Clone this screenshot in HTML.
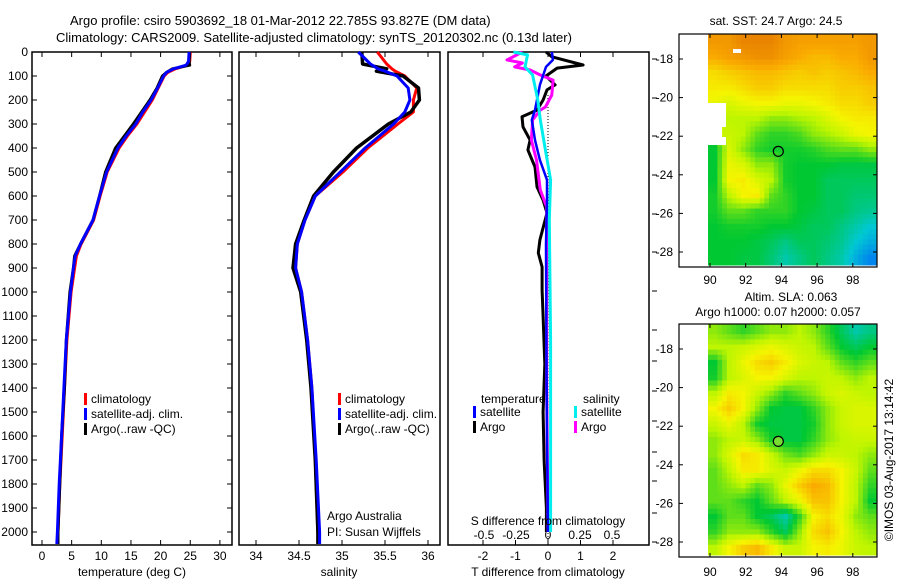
<!DOCTYPE html>
<html><head><meta charset="utf-8">
<style>
body{margin:0;background:#fff;}
svg{display:block;font-family:"Liberation Sans",sans-serif;}
text{font-size:12px;fill:#000;}
</style></head>
<body>
<svg id="fig" width="900" height="580" viewBox="0 0 900 580">
<g id="g"></g>
</svg>
<script>
// ---- profile data ----
const tDepth=[0,40,55,70,85,100,150,200,250,300,350,400,500,600,700,800,850,900,1000,1200,1400,1600,1800,2000,2050];
const tClim=[25.0,24.9,24.5,22.5,21.2,20.6,19.6,18.6,17.3,16.0,14.4,13.0,11.0,9.8,8.7,6.6,5.8,5.5,4.9,4.2,3.8,3.4,3.0,2.7,2.6];
const tSat=[24.8,24.7,24.3,22.2,21.0,20.5,19.5,18.4,17.0,15.8,14.2,12.8,10.9,9.7,8.6,6.5,5.6,5.3,4.8,4.1,3.7,3.3,2.9,2.6,2.5];
const tArgo=[24.9,24.8,24.9,22.0,21.0,20.3,19.4,18.2,16.8,15.4,13.9,12.4,10.7,9.7,8.6,6.5,5.5,5.3,4.7,4.1,3.8,3.3,3.0,2.7,2.7];
const sDepth=[0,50,70,80,100,150,200,250,300,400,500,600,700,800,900,1000,1200,1400,1700,2000,2050];
const sClim=[35.41,35.52,35.58,35.62,35.73,35.87,35.83,35.83,35.65,35.30,35.01,34.69,34.57,34.48,34.46,34.53,34.6,34.65,34.69,34.72,34.73];
const sSat=[35.19,35.33,35.42,35.5,35.64,35.77,35.79,35.73,35.60,35.27,34.98,34.69,34.57,34.48,34.46,34.53,34.6,34.65,34.7,34.74,34.74];
const sArgo=[35.23,35.24,35.52,35.40,35.71,35.89,35.90,35.80,35.54,35.17,34.90,34.67,34.56,34.46,34.43,34.52,34.59,34.64,34.69,34.72,34.72];
const dTArgoDepth=[0,20,54,67,100,137,158,200,242,270,312,367,408,479,562,617,671,783,837,896,992,1100,1300,1500,1700,1900,2000];
const dTArgo=[-0.06,0.12,1.08,0.28,-0.06,0.22,-0.03,-0.15,-0.34,-0.8,-0.77,-0.55,-0.62,-0.4,-0.34,-0.15,-0.03,-0.25,-0.3,-0.18,-0.18,-0.15,-0.1,-0.15,-0.12,-0.05,-0.05];
const dTSatDepth=[0,33,62,137,242,283,367,450,533,617,800,1200,1600,2000];
const dTSat=[0.12,0.15,-0.06,-0.25,-0.4,-0.5,-0.4,-0.25,-0.03,-0.03,-0.06,-0.05,-0.03,0];
const dSArgoDepth=[0,33,46,62,75,96,117,179,229,242,283,367,450,575,646,900,1400,2000];
const dSArgo=[-0.2,-0.32,-0.2,-0.26,-0.14,-0.06,0.04,0.03,-0.02,-0.06,-0.12,-0.13,-0.09,-0.06,-0.01,-0.01,-0.01,0];
const dSSatDepth=[0,12,62,96,200,283,408,533,700,1200,2000];
const dSSat=[-0.27,-0.16,-0.18,-0.12,-0.08,-0.06,-0.02,0.02,0.01,0.02,0.02];
const depthTicks=[0,100,200,300,400,500,600,700,800,900,1000,1100,1200,1300,1400,1500,1600,1700,1800,1900,2000];
const tTicks=[0,5,10,15,20,25,30];
const sTicks=[34,34.5,35,35.5,36];
const sTickLabels=["34","34.5","35","35.5","36"];
const dTTicks=[-2,-1,0,1,2];
const dSTicks=[-0.5,-0.25,0,0.25,0.5];
const dSTickLabels=["-0.5","-0.25","0","0.25","0.5"];
// ---- map data (value 0..1 colour index; null = no data) ----
const lonTicks=[90,92,94,96,98];
const latTicks=[18,20,22,24,26,28];
const sstGrid=[
[.9,.9,.95,.95,.95,.9,.88,.88,.88,.88,.88,.9],
[.85,.88,.9,.92,.92,.88,.85,.82,.82,.85,.85,.9],
[.75,.78,.8,.82,.82,.8,.78,.8,.78,.8,.82,.85],
[.72,.72,.75,.78,.78,.75,.75,.75,.75,.78,.78,.8],
[.68,.65,.68,.7,.7,.68,.68,.7,.72,.75,.75,.78],
[null,.6,.6,.6,.55,.55,.58,.6,.65,.7,.72,.72],
[null,.62,.6,.5,.45,.45,.48,.55,.58,.62,.68,.7],
[.4,.65,.55,.45,.42,.42,.42,.44,.48,.5,.5,.55],
[.4,.68,.65,.55,.55,.42,.4,.4,.4,.38,.38,.38],
[.4,.7,.72,.65,.6,.42,.4,.4,.35,.35,.35,.35],
[.42,.6,.7,.72,.5,.45,.4,.4,.35,.35,.32,.32],
[.42,.5,.5,.45,.45,.45,.4,.38,.35,.35,.3,.28],
[.4,.42,.42,.42,.4,.4,.38,.35,.35,.3,.25,.2],
[.4,.4,.4,.38,.35,.3,.35,.35,.32,.28,.2,.15],
[.4,.4,.38,.38,.32,.25,.3,.35,.3,.25,.15,.08]];
const slaGrid=[
[.55,.5,.45,.5,.55,.55,.6,.55,.45,.35,.25,.3],
[.6,.6,.62,.65,.68,.65,.62,.6,.5,.4,.35,.4],
[.4,.6,.68,.75,.78,.72,.65,.62,.6,.5,.45,.5],
[.42,.6,.65,.7,.7,.65,.6,.6,.62,.6,.55,.6],
[.6,.72,.7,.62,.55,.45,.5,.55,.62,.65,.62,.6],
[.7,.78,.7,.55,.4,.38,.38,.45,.55,.62,.65,.65],
[.62,.68,.6,.42,.38,.38,.38,.42,.55,.62,.65,.65],
[.55,.6,.62,.55,.42,.38,.38,.45,.55,.6,.62,.62],
[.55,.65,.75,.72,.62,.52,.48,.55,.62,.62,.6,.55],
[.5,.6,.72,.72,.65,.62,.68,.75,.75,.7,.62,.5],
[.5,.55,.6,.5,.55,.68,.78,.85,.82,.7,.6,.45],
[.5,.5,.45,.4,.5,.6,.68,.8,.8,.7,.6,.4],
[.4,.5,.5,.4,.35,.25,.45,.7,.75,.68,.55,.5],
[.45,.55,.55,.55,.45,.35,.55,.75,.8,.7,.6,.55],
[.6,.7,.78,.82,.72,.62,.62,.7,.72,.68,.62,.6]];
const profLon=93.827, profLat=22.785;

const NS="http://www.w3.org/2000/svg";
const G=document.getElementById('g');
function el(tag,attrs,parent){const e=document.createElementNS(NS,tag);for(const k in attrs)e.setAttribute(k,attrs[k]);(parent||G).appendChild(e);return e;}
function txt(x,y,s,anchor,name,extra){const t=el('text',Object.assign({x:x,y:y,'text-anchor':anchor||'start'},extra||{}));t.textContent=s;


return t;}

const yD=d=>52+0.24*d;
const xT=v=>42+5.93*v;
const xS=v=>256+86*(v-34);
const xDT=v=>548+32.5*v;
const xDS=v=>548+128*v;

function panel(x0,x1,name){
 const r=el('rect',{x:x0,y:52,width:x1-x0,height:493,fill:'none',stroke:'#000','stroke-width':1.5});
 
 
}
panel(32,232,'temperature-panel');panel(239,440,'salinity-panel');panel(448,649,'difference-panel');

depthTicks.forEach(d=>{
 const y=yD(d);
 el('line',{x1:32,x2:37,y1:y,y2:y,stroke:'#000'});
 el('line',{x1:227,x2:232,y1:y,y2:y,stroke:'#000'});
 txt(28,y+4,String(d),'end','depth-tick-label');
});
function xticks(vals,fx,labels,ly,name){
 vals.forEach((v,i)=>{const x=fx(v);
  el('line',{x1:x,x2:x,y1:52,y2:57,stroke:'#000'});
  el('line',{x1:x,x2:x,y1:540,y2:545,stroke:'#000'});
  if(labels) txt(x,ly,labels[i],'middle',name);
 });
}
xticks(tTicks,xT,tTicks.map(String),560,'temperature-tick-label');
xticks(sTicks,xS,sTickLabels,560,'salinity-tick-label');
xticks(dTTicks,xDT,dTTicks.map(String),560,'t-diff-tick-label');
dSTicks.forEach((v,i)=>txt(xDS(v),539,dSTickLabels[i],'middle','s-diff-tick-label'));
[59,98,136,175,214,252,291,330,361,391,421,452,481,513,542].forEach(y=>el('line',{x1:652,x2:657,y1:y,y2:y,stroke:'#000'}));

function line(depths,vals,fx,color,w,name){
 const pts=depths.map((d,i)=>fx(vals[i]).toFixed(1)+','+yD(d).toFixed(1)).join(' ');
 const p=el('polyline',{points:pts,fill:'none',stroke:color,'stroke-width':w,'stroke-linejoin':'round'});
 
 
}
line(tDepth,tClim,xT,'#f00',3,'temperature-climatology-line');
line(tDepth,tArgo,xT,'#000',3,'temperature-argo-line');
line(tDepth,tSat,xT,'#00f',3,'temperature-satellite-line');
line(sDepth,sClim,xS,'#f00',3,'salinity-climatology-line');
line(sDepth,sArgo,xS,'#000',3.5,'salinity-argo-line');
line(sDepth,sSat,xS,'#00f',3,'salinity-satellite-line');
el('line',{x1:548,x2:548,y1:95,y2:545,stroke:'#000','stroke-dasharray':'1,2'});
line(dTArgoDepth,dTArgo,xDT,'#000',3,'t-diff-argo-line');
line(dSArgoDepth,dSArgo,xDS,'#f0f',3,'s-diff-argo-line');
line(dTSatDepth,dTSat,xDT,'#00f',2.5,'t-diff-satellite-line');
line(dSSatDepth,dSSat,xDS,'#0ee',3,'s-diff-satellite-line');

function legItem(x,y,color,label,name){
 const r=el('rect',{x:x,y:y-10,width:3,height:12,fill:color});
 
 
 txt(x+7,y,label,'start',name);
}
[[84,'climatology','#f00'],[84,'satellite-adj. clim.','#00f'],[84,'Argo(..raw -QC)','#000']].forEach((a,i)=>legItem(a[0],403+i*15,a[2],a[1],'temp-legend-entry'));
[[338,'climatology','#f00'],[338,'satellite-adj. clim.','#00f'],[338,'Argo(..raw -QC)','#000']].forEach((a,i)=>legItem(a[0],403+i*15,a[2],a[1],'sal-legend-entry'));
txt(481,403,'temperature','start','legend-temperature-heading');
txt(583,403,'salinity','start','legend-salinity-heading');
legItem(473,416,'#00f','satellite','legend-t-satellite');
legItem(473,431,'#000','Argo','legend-t-argo');
legItem(574,416,'#0ee','satellite','legend-s-satellite');
legItem(574,431,'#f0f','Argo','legend-s-argo');
txt(327,520,'Argo Australia','start','argo-australia-note');
txt(327,536,'PI: Susan Wijffels','start','pi-note');
txt(548,525,'S difference from climatology','middle','s-diff-axis-title');
txt(132,576,'temperature (deg C)','middle','temperature-axis-title');
txt(339,576,'salinity','middle','salinity-axis-title');
txt(548,576,'T difference from climatology','middle','t-diff-axis-title');
txt(70,25,'Argo profile: csiro 5903692_18 01-Mar-2012 22.785S 93.827E (DM data)','start','title-line-1',{style:'font-size:13px'});
txt(56,42,'Climatology: CARS2009. Satellite-adjusted climatology: synTS_20120302.nc (0.13d later)','start','title-line-2',{style:'font-size:13px'});

function cmap(v){
 const stops=[[0,[0,90,255]],[0.2,[0,200,210]],[0.4,[0,200,50]],[0.6,[190,245,0]],[0.7,[245,245,0]],[0.85,[250,170,0]],[1,[225,115,0]]];
 for(let i=1;i<stops.length;i++){if(v<=stops[i][0]){const a=stops[i-1],b=stops[i],t=(v-a[0])/(b[0]-a[0]);
  const c=a[1].map((q,k)=>Math.round(q+(b[1][k]-q)*t));return 'rgb('+c.join(',')+')';}}
 return 'rgb(225,115,0)';
}
// bilinear sample of grid at fractional cell coords (cell centres at i+0.5)
function sample(grid,fr,fc){
 const rows=grid.length,cols=grid[0].length;
 let r=fr-0.5,c=fc-0.5;
 r=Math.max(0,Math.min(rows-1,r));c=Math.max(0,Math.min(cols-1,c));
 const r0=Math.floor(r),c0=Math.floor(c),r1=Math.min(rows-1,r0+1),c1=Math.min(cols-1,c0+1);
 const tr=r-r0,tc=c-c0;
 const g=(a,b)=>{const v=grid[a][b];return v===null?null:v;};
 const vals=[[g(r0,c0),(1-tr)*(1-tc)],[g(r0,c1),(1-tr)*tc],[g(r1,c0),tr*(1-tc)],[g(r1,c1),tr*tc]];
 let s=0,w=0;vals.forEach(p=>{if(p[0]!==null){s+=p[0]*p[1];w+=p[1];}});
 return w>0?s/w:null;
}
function map(top,grid,name,circleFill,lonLabelY){
 const fx=lon=>710+17.85*(lon-90);
 const fy=lat=>top+25+19.3*(lat-18);
 const x0=708,x1=877,y0=top,y1=top+231;
 const rows=grid.length,cols=grid[0].length;
 const sub=3;
 const cw=(x1-x0)/(cols*sub),ch=(y1-y0)/(rows*sub);
 const gg=el('g',{});
 
 
 for(let r=0;r<rows*sub;r++)for(let c=0;c<cols*sub;c++){
  const orig=grid[Math.floor(r/sub)][Math.floor(c/sub)];
  if(orig===null)continue;
  const v=sample(grid,(r+0.5)/sub,(c+0.5)/sub);
  if(v===null)continue;
  el('rect',{x:(x0+c*cw).toFixed(2),y:(y0+r*ch).toFixed(2),width:(cw+0.5).toFixed(2),height:(ch+0.5).toFixed(2),fill:cmap(v)},gg);
 }
 const f=el('rect',{x:679,y:top,width:198,height:233,fill:'none',stroke:'#000','stroke-width':1.2});
 
 
 lonTicks.forEach(l=>{const x=fx(l);el('line',{x1:x,x2:x,y1:top,y2:top+4,stroke:'#000'});el('line',{x1:x,x2:x,y1:top+229,y2:top+233,stroke:'#000'});
  txt(x,lonLabelY,String(l),'middle',name+'-lon-label');});
 latTicks.forEach(l=>{const y=fy(l);el('line',{x1:679,x2:683,y1:y,y2:y,stroke:'#000'});el('line',{x1:873,x2:877,y1:y,y2:y,stroke:'#000'});
  txt(673,y+4,'-'+l,'end',name+'-lat-label');});
 const c=el('circle',{cx:fx(profLon),cy:fy(profLat),r:5,fill:circleFill,stroke:'#000','stroke-width':1.2});
 
 
}
map(34,sstGrid,'sst-map','none',284);
el('rect',{x:708,y:137,width:18,height:8,fill:'#fff'});
el('rect',{x:708,y:103,width:18,height:24,fill:'#fff'});
el('rect',{x:733,y:49,width:8,height:4,fill:'#fff'});
map(324,slaGrid,'sla-map','#7d3',576);
txt(776,25,'sat. SST: 24.7 Argo: 24.5','middle','sst-map-title');
txt(791,301,'Altim. SLA: 0.063','middle','sla-map-title-1');
txt(778,316,'Argo h1000: 0.07 h2000: 0.057','middle','sla-map-title-2');
txt(0,0,'©IMOS 03-Aug-2017 13:14:42','middle','timestamp',{transform:'translate(893,460) rotate(-90)'});
</script>
</body></html>
